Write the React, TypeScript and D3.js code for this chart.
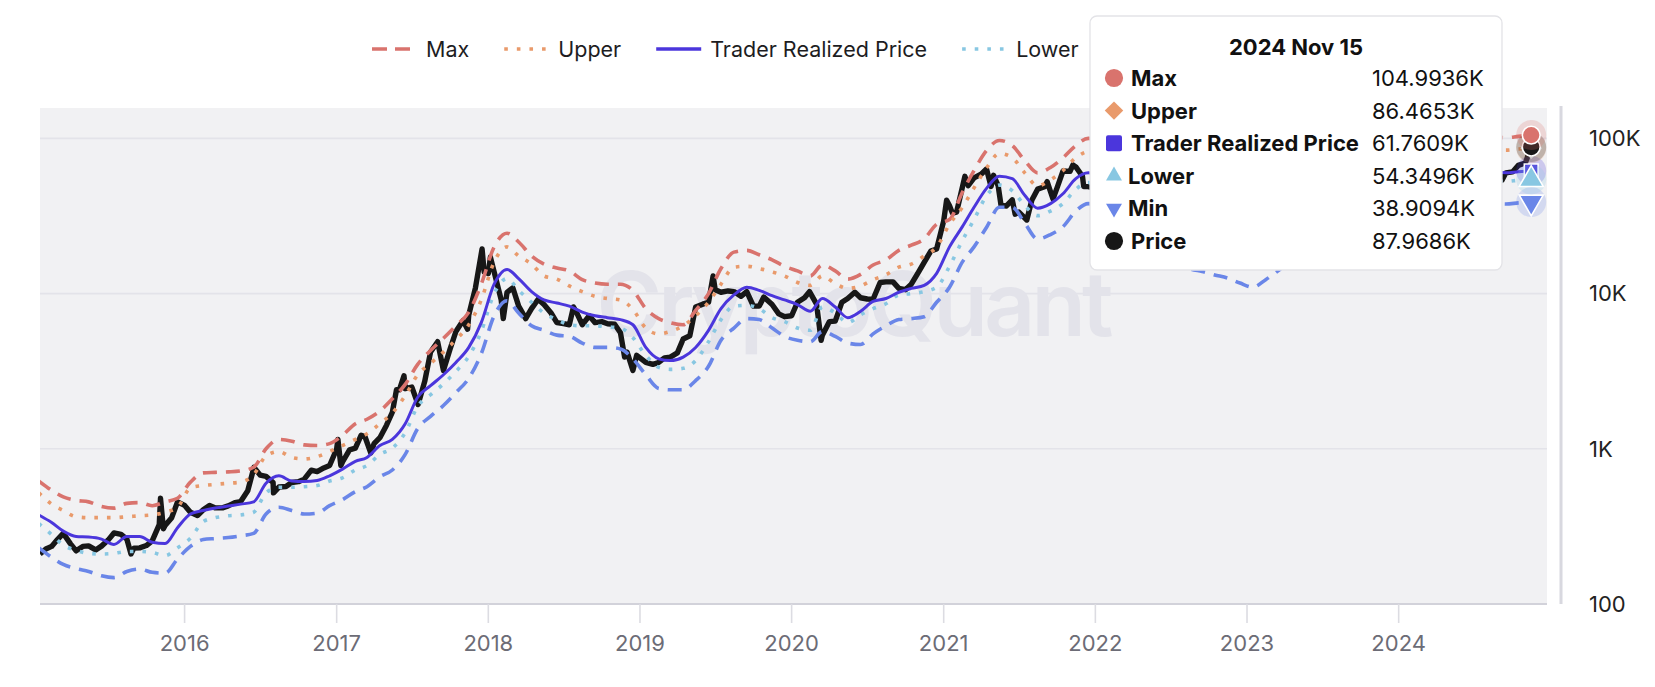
import React, { useEffect, useRef } from "react";
import * as d3 from "d3";

// legend / tooltip text
const seriesNames = ["Max", "Upper", "Trader Realized Price", "Lower", "Min", "Price"];
const seriesColors = ["#d9736d", "#e99a6b", "#4b36dc", "#88c7e2", "#6a86e8", "#171717"];
const tooltipDate = "2024 Nov 15";
const tooltipValues = ["104.9936K", "86.4653K", "61.7609K", "54.3496K", "38.9094K", "87.9686K"];

// axis ticks
const yearTicks = [2016, 2017, 2018, 2019, 2020, 2021, 2022, 2023, 2024];
const yTicks = [100, 1000, 10000, 100000];
const yTickLabels = ["100", "1K", "10K", "100K"];

// band series: one value per month (mid month), Jan 2015 .. Nov 2024
const maxBand = [
  620, 540, 490, 465, 455, 425, 415, 445, 450, 430, 455, 480,
  610, 700, 705, 710, 720, 760, 1000, 1150, 1120, 1060, 1050, 1080,
  1220, 1450, 1550, 1750, 2100, 2600, 3500, 4300, 5150, 6200, 7600, 11500,
  20000, 24500, 21500, 17500, 15500, 14600, 14000, 12300, 11700, 11500, 11500, 10500,
  8000, 6900, 6500, 6300, 7800, 10000, 14500, 18500, 19000, 17800, 16500, 15000,
  14000, 13000, 15300, 14000, 12400, 13300, 15300, 16500, 19000, 20500, 22500, 28000,
  30000, 45000, 62000, 84000, 97000, 90000, 72000, 60000, 65000, 75000, 90000, 100000,
  95000, 82000, 73000, 70000, 66000, 56000, 45000, 39000, 37000, 35500, 34000, 31500,
  30000, 33000, 37000, 43000, 46500, 47500, 50000, 49000, 46500, 47500, 54000, 62000,
  68000, 75000, 93000, 103000, 106000, 108000, 106000, 103000, 101000, 103000, 104994,
];

const upperBand = [
  520, 440, 400, 365, 360, 360, 360, 365, 370, 375, 390, 420,
  560, 580, 590, 600, 610, 680, 900, 960, 880, 860, 890, 960,
  1050, 1150, 1250, 1450, 1700, 2200, 3000, 3550, 4200, 5050, 6300, 9100,
  16000, 20000, 17500, 15500, 13000, 12400, 11200, 10300, 9600, 9300, 9100, 7900,
  6000, 5500, 5700, 6200, 7200, 8800, 11500, 14800, 15000, 14500, 13800, 13000,
  11800, 11300, 13000, 11600, 10800, 11200, 12300, 13200, 14800, 15500, 17500, 20000,
  28000, 36000, 48000, 65000, 80000, 75000, 60000, 49500, 54000, 62000, 75000, 82000,
  78000, 67000, 60000, 58000, 55000, 46000, 37000, 32000, 30500, 29500, 28000, 26000,
  24500, 27000, 30500, 35500, 38500, 39000, 41000, 40500, 38500, 39000, 44500, 51000,
  56000, 61500, 77000, 85000, 88000, 89500, 87500, 85000, 84000, 85500, 86465,
];

const traderRealized = [
  375, 335, 295, 272, 270, 262, 242, 272, 272, 250, 245, 310,
  380, 400, 415, 428, 440, 455, 600, 670, 620, 615, 625, 670,
  740, 830, 880, 1050, 1150, 1450, 2150, 2550, 3000, 3600, 4500, 6500,
  11500, 14300, 12500, 10300, 9100, 8700, 8300, 7600, 7200, 7000, 6800, 6300,
  4500, 3800, 3700, 3900, 4500, 5800, 8000, 9800, 11000, 10500, 9700, 9100,
  8500, 7700, 9300, 8200, 7000, 7700, 8900, 9300, 10200, 10800, 11300, 13500,
  20000, 27000, 36000, 48000, 57000, 55000, 43000, 35500, 38000, 44000, 55000, 60000,
  55000, 47000, 43000, 42000, 40000, 33000, 26000, 23000, 22000, 21000, 20000, 18500,
  17500, 19500, 22000, 25500, 27500, 28000, 29500, 29000, 27500, 28000, 32000, 36500,
  40000, 44000, 55000, 61000, 63000, 64000, 62500, 61000, 60000, 61000, 61761,
];

const lowerBand = [
  330, 280, 240, 222, 212, 210, 212, 218, 218, 215, 205, 230,
  265, 340, 360, 370, 375, 390, 520, 565, 565, 570, 580, 620,
  650, 730, 780, 920, 1010, 1270, 1880, 2230, 2620, 3150, 3950, 5700,
  10000, 12500, 10500, 8800, 7500, 6800, 6300, 6200, 6200, 6100, 6000, 5200,
  4000, 3350, 3250, 3300, 3700, 4900, 6800, 8300, 8400, 8000, 7000, 6600,
  6000, 5800, 8200, 7500, 6500, 7300, 8000, 8600, 9800, 10000, 10300, 11000,
  15000, 22000, 30000, 43000, 50000, 46000, 37000, 31800, 34000, 38000, 47000, 52000,
  48000, 41000, 37500, 36500, 35000, 29000, 22500, 20000, 19200, 18300, 17400, 16100,
  15200, 17000, 19100, 22200, 24000, 24400, 25700, 25200, 24000, 24400, 27800, 31800,
  34800, 38300, 47900, 53500, 55200, 56000, 55000, 53700, 52800, 53700, 54350,
];

const minBand = [
  230, 200, 180, 169, 162, 152, 148, 162, 168, 160, 158, 195,
  235, 260, 264, 268, 275, 285, 380, 420, 400, 380, 385, 430,
  470, 530, 570, 660, 730, 920, 1350, 1620, 1900, 2300, 2850, 4100,
  7200, 9000, 7500, 6200, 5800, 5400, 5300, 4800, 4500, 4500, 4400, 3800,
  3000, 2450, 2400, 2400, 2750, 3400, 5000, 6000, 6900, 6800, 6000, 5300,
  5000, 4900, 5700, 5300, 4800, 4700, 5500, 6200, 6800, 6900, 7100, 8800,
  11000, 16000, 20000, 27000, 36000, 36000, 28500, 22500, 24000, 27000, 34000, 38000,
  35000, 30000, 27000, 26500, 25000, 21000, 16500, 14500, 13900, 13200, 12600, 11700,
  11000, 12300, 13900, 16000, 17300, 17600, 18600, 18300, 17300, 17600, 20200, 23000,
  25200, 27700, 34600, 38400, 39700, 40300, 39400, 38400, 37800, 38400, 38909,
];

// BTC price, read roughly twice a month plus the main highs and lows
const priceSeries: [string, number][] = [
  ["2015-01-18", 210], ["2015-02-01", 226], ["2015-02-15", 235], ["2015-03-01", 260], ["2015-03-15", 285],
  ["2015-04-01", 245], ["2015-04-15", 220], ["2015-05-01", 235], ["2015-05-15", 237], ["2015-06-01", 223],
  ["2015-06-15", 236], ["2015-07-01", 258], ["2015-07-15", 287], ["2015-08-01", 281], ["2015-08-15", 262],
  ["2015-08-25", 210], ["2015-09-01", 229], ["2015-09-15", 230], ["2015-10-01", 238], ["2015-10-15", 255],
  ["2015-11-01", 325], ["2015-11-04", 480], ["2015-11-11", 305], ["2015-11-15", 320], ["2015-12-01", 360],
  ["2015-12-15", 455], ["2016-01-01", 432], ["2016-01-15", 390], ["2016-02-01", 372], ["2016-02-15", 405],
  ["2016-03-01", 432], ["2016-03-15", 416], ["2016-04-01", 416], ["2016-04-15", 429], ["2016-05-01", 450],
  ["2016-05-15", 457], ["2016-06-01", 537], ["2016-06-16", 760], ["2016-07-01", 676], ["2016-07-15", 664],
  ["2016-08-01", 606], ["2016-08-02", 520], ["2016-08-15", 567], ["2016-09-01", 572], ["2016-09-15", 607],
  ["2016-10-01", 614], ["2016-10-15", 638], ["2016-11-01", 729], ["2016-11-15", 714], ["2016-12-01", 753],
  ["2016-12-15", 780], ["2017-01-01", 998], ["2017-01-04", 1150], ["2017-01-11", 780], ["2017-01-15", 822],
  ["2017-02-01", 984], ["2017-02-15", 1010], ["2017-03-01", 1223], ["2017-03-10", 1200], ["2017-03-24", 940],
  ["2017-04-01", 1080], ["2017-04-15", 1180], ["2017-05-01", 1420], ["2017-05-15", 1720], ["2017-05-25", 2400],
  ["2017-06-01", 2400], ["2017-06-12", 2950], ["2017-06-15", 2440], ["2017-07-01", 2500], ["2017-07-16", 1930],
  ["2017-08-01", 2720], ["2017-08-15", 4200], ["2017-09-01", 4900], ["2017-09-15", 3200], ["2017-10-01", 4400],
  ["2017-10-15", 5700], ["2017-11-01", 6700], ["2017-11-12", 5900], ["2017-11-15", 7300], ["2017-12-01", 10900],
  ["2017-12-17", 19400], ["2017-12-22", 13800], ["2018-01-01", 13500], ["2018-01-06", 17200], ["2018-01-15", 13800],
  ["2018-02-01", 9100], ["2018-02-06", 6900], ["2018-02-15", 10200], ["2018-03-01", 10900], ["2018-03-15", 8300],
  ["2018-04-01", 6900], ["2018-04-15", 8000], ["2018-05-01", 9200], ["2018-05-15", 8500], ["2018-06-01", 7500],
  ["2018-06-15", 6500], ["2018-07-01", 6400], ["2018-07-15", 6300], ["2018-07-25", 8200], ["2018-08-01", 7600],
  ["2018-08-15", 6300], ["2018-09-01", 7200], ["2018-09-15", 6500], ["2018-10-01", 6600], ["2018-10-15", 6400],
  ["2018-11-01", 6350], ["2018-11-15", 5600], ["2018-11-25", 3900], ["2018-12-01", 4200], ["2018-12-15", 3200],
  ["2018-12-24", 4000], ["2019-01-01", 3850], ["2019-01-15", 3600], ["2019-02-01", 3500], ["2019-02-15", 3600],
  ["2019-03-01", 3850], ["2019-03-15", 3900], ["2019-04-01", 4150], ["2019-04-15", 5100], ["2019-05-01", 5350],
  ["2019-05-15", 8200], ["2019-06-01", 8550], ["2019-06-15", 8800], ["2019-06-26", 13000], ["2019-07-01", 10600],
  ["2019-07-15", 10200], ["2019-08-01", 10400], ["2019-08-15", 10300], ["2019-09-01", 9600], ["2019-09-15", 10300],
  ["2019-10-01", 8300], ["2019-10-15", 8300], ["2019-10-26", 9500], ["2019-11-01", 9200], ["2019-11-15", 8500],
  ["2019-12-01", 7400], ["2019-12-15", 7100], ["2020-01-01", 7200], ["2020-01-15", 8800], ["2020-02-01", 9400],
  ["2020-02-13", 10300], ["2020-03-01", 8550], ["2020-03-12", 5000], ["2020-03-15", 5400], ["2020-04-01", 6600],
  ["2020-04-15", 6650], ["2020-05-01", 8800], ["2020-05-15", 9300], ["2020-06-01", 10200], ["2020-06-15", 9400],
  ["2020-07-01", 9230], ["2020-07-15", 9200], ["2020-08-01", 11800], ["2020-08-15", 11900], ["2020-09-01", 11900],
  ["2020-09-15", 10800], ["2020-10-01", 10600], ["2020-10-15", 11500], ["2020-11-01", 13700], ["2020-11-15", 15900],
  ["2020-12-01", 18800], ["2020-12-15", 19400], ["2021-01-01", 29400], ["2021-01-08", 40000], ["2021-01-15", 36800],
  ["2021-01-22", 33000], ["2021-02-01", 33500], ["2021-02-15", 48600], ["2021-02-21", 57000], ["2021-03-01", 49600],
  ["2021-03-15", 55600], ["2021-04-01", 58800], ["2021-04-14", 63500], ["2021-04-25", 49000], ["2021-05-01", 57800],
  ["2021-05-12", 49700], ["2021-05-19", 37000], ["2021-06-01", 36700], ["2021-06-15", 40200], ["2021-06-22", 32500],
  ["2021-07-01", 33500], ["2021-07-20", 29800], ["2021-08-01", 39900], ["2021-08-15", 47100], ["2021-09-01", 48800],
  ["2021-09-07", 52700], ["2021-09-21", 40700], ["2021-10-01", 48200], ["2021-10-15", 61600], ["2021-11-01", 61300],
  ["2021-11-08", 67500], ["2021-11-15", 65500], ["2021-12-01", 57000], ["2021-12-04", 49000], ["2021-12-15", 48900],
  ["2022-01-01", 47700], ["2022-01-15", 43100], ["2022-01-22", 35000], ["2022-02-01", 38700], ["2022-02-15", 44600],
  ["2022-03-01", 44400], ["2022-03-15", 39300], ["2022-03-29", 47400], ["2022-04-15", 40400], ["2022-05-01", 38500],
  ["2022-05-15", 31300], ["2022-06-01", 29800], ["2022-06-18", 19000], ["2022-07-01", 19300], ["2022-07-15", 20800],
  ["2022-08-01", 23300], ["2022-08-15", 24300], ["2022-09-01", 20100], ["2022-09-15", 19700], ["2022-10-01", 19300],
  ["2022-10-15", 19100], ["2022-11-01", 20500], ["2022-11-09", 15900], ["2022-11-15", 16900], ["2022-12-01", 17100],
  ["2022-12-15", 17400], ["2023-01-01", 16600], ["2023-01-15", 20900], ["2023-02-01", 23700], ["2023-02-15", 24300],
  ["2023-03-01", 23600], ["2023-03-10", 20200], ["2023-03-15", 24400], ["2023-04-01", 28400], ["2023-04-15", 30400],
  ["2023-05-01", 28100], ["2023-05-15", 27200], ["2023-06-01", 26800], ["2023-06-15", 25100], ["2023-07-01", 30600],
  ["2023-07-15", 30300], ["2023-08-01", 29700], ["2023-08-17", 26600], ["2023-09-01", 25900], ["2023-09-15", 26600],
  ["2023-10-01", 28000], ["2023-10-15", 27200], ["2023-10-24", 34500], ["2023-11-01", 35400], ["2023-11-15", 35500],
  ["2023-12-01", 38700], ["2023-12-15", 41900], ["2024-01-01", 44200], ["2024-01-11", 46600], ["2024-01-23", 39500],
  ["2024-02-01", 43100], ["2024-02-15", 51900], ["2024-03-01", 62400], ["2024-03-14", 73100], ["2024-03-20", 62000],
  ["2024-04-01", 69600], ["2024-04-15", 63400], ["2024-05-01", 58200], ["2024-05-15", 66200], ["2024-06-01", 67800],
  ["2024-06-15", 66000], ["2024-07-01", 62900], ["2024-07-05", 56700], ["2024-07-15", 64800], ["2024-08-01", 64600],
  ["2024-08-05", 54000], ["2024-08-15", 57500], ["2024-09-01", 57300], ["2024-09-06", 53900], ["2024-09-15", 60000],
  ["2024-10-01", 60800], ["2024-10-15", 67000], ["2024-11-01", 69500], ["2024-11-06", 75800], ["2024-11-13", 90000],
  ["2024-11-15", 87969],
];

export default function App() {
  const svgRef = useRef<SVGSVGElement | null>(null);

  useEffect(() => {
    if (!svgRef.current) return;
    const svg = d3.select(svgRef.current);
    svg.selectAll("*").remove();

    const plot = { left: 40, right: 1547, top: 108, bottom: 604 };
    const parse = d3.timeParse("%Y-%m-%d");
    const font = "Inter, 'Open Sans', sans-serif";

    const x = d3
      .scaleTime()
      .domain([parse("2015-01-18") as Date, parse("2024-12-23") as Date])
      .range([plot.left, plot.right]);
    const y = d3.scaleLog().domain([100, 157000]).range([plot.bottom, plot.top]);

    // mid-month dates for the band series
    const months = d3
      .timeMonth.range(new Date(2015, 0, 1), new Date(2024, 11, 1))
      .map((d) => d3.timeDay.offset(d, 14));

    const bands = [
      { vals: maxBand, color: seriesColors[0], dash: "14,9", width: 3.6 },
      { vals: upperBand, color: seriesColors[1], dash: "3.6,9", width: 3.6 },
      { vals: lowerBand, color: seriesColors[3], dash: "3.6,9", width: 3.6 },
      { vals: minBand, color: seriesColors[4], dash: "14,9", width: 3.6 },
      { vals: traderRealized, color: seriesColors[2], dash: null, width: 3 },
    ];

    // plot background
    svg
      .append("rect")
      .attr("x", plot.left)
      .attr("y", plot.top)
      .attr("width", plot.right - plot.left)
      .attr("height", plot.bottom - plot.top)
      .attr("fill", "#f1f1f3");

    svg
      .append("defs")
      .append("clipPath")
      .attr("id", "plot-clip")
      .append("rect")
      .attr("x", plot.left)
      .attr("y", plot.top - 2)
      .attr("width", plot.right - plot.left)
      .attr("height", plot.bottom - plot.top + 2);

    // gridlines
    svg
      .append("g")
      .selectAll("line")
      .data(yTicks.slice(1))
      .join("line")
      .attr("x1", plot.left)
      .attr("x2", plot.right)
      .attr("y1", (d) => y(d))
      .attr("y2", (d) => y(d))
      .attr("stroke", "#e3e3e9")
      .attr("stroke-width", 1.6);

    // watermark
    svg
      .append("text")
      .attr("x", 855)
      .attr("y", 336)
      .attr("text-anchor", "middle")
      .attr("font-family", font)
      .attr("font-weight", 600)
      .attr("font-size", 89)
      .attr("textLength", 517)
      .attr("fill", "#e3e3ea")
      .text("CryptoQuant");

    const lines = svg.append("g").attr("clip-path", "url(#plot-clip)");

    // price
    const priceLine = d3
      .line<[string, number]>()
      .x((d) => x(parse(d[0]) as Date))
      .y((d) => y(d[1]));
    lines
      .append("path")
      .datum(priceSeries)
      .attr("fill", "none")
      .attr("stroke", seriesColors[5])
      .attr("stroke-width", 5.4)
      .attr("stroke-linejoin", "round")
      .attr("d", priceLine);

    // bands and trader realized price
    const bandLine = d3
      .line<number>()
      .x((_, i) => x(months[i]))
      .y((d) => y(d))
      .curve(d3.curveMonotoneX);
    bands.forEach((b) => {
      lines
        .append("path")
        .datum(b.vals)
        .attr("fill", "none")
        .attr("stroke", b.color)
        .attr("stroke-width", b.width)
        .attr("stroke-dasharray", b.dash)
        .attr("d", bandLine);
    });

    // bottom axis
    svg
      .append("line")
      .attr("x1", plot.left)
      .attr("x2", plot.right)
      .attr("y1", plot.bottom)
      .attr("y2", plot.bottom)
      .attr("stroke", "#d2d2da")
      .attr("stroke-width", 2);
    const xt = svg.append("g");
    yearTicks.forEach((yr) => {
      const px = x(new Date(yr, 0, 1));
      xt.append("line")
        .attr("x1", px)
        .attr("x2", px)
        .attr("y1", plot.bottom)
        .attr("y2", plot.bottom + 19)
        .attr("stroke", "#dcdce2")
        .attr("stroke-width", 1.6);
      xt.append("text")
        .attr("x", px)
        .attr("y", 651)
        .attr("text-anchor", "middle")
        .attr("font-family", font)
        .attr("font-size", 22)
        .attr("fill", "#6c6c76")
        .text(String(yr));
    });

    // right axis
    svg
      .append("line")
      .attr("x1", 1561)
      .attr("x2", 1561)
      .attr("y1", 106)
      .attr("y2", plot.bottom)
      .attr("stroke", "#d8d8df")
      .attr("stroke-width", 3);
    svg
      .append("g")
      .selectAll("text")
      .data(yTicks)
      .join("text")
      .attr("x", 1589)
      .attr("y", (d) => y(d))
      .attr("dy", "0.35em")
      .attr("font-family", font)
      .attr("font-size", 22)
      .attr("fill", "#222")
      .text((_, i) => yTickLabels[i]);

    // legend: the last two items sit under the tooltip, so only the
    // visible ones are drawn
    const legend = svg.append("g").attr("transform", "translate(372,49)");
    let lx = 0;
    seriesNames.slice(0, 4).forEach((name, i) => {
      const item = legend.append("g").attr("transform", `translate(${lx},0)`);
      const ln = item
        .append("line")
        .attr("x1", 0)
        .attr("x2", 45)
        .attr("y1", 0)
        .attr("y2", 0)
        .attr("stroke", seriesColors[i])
        .attr("stroke-width", 3.4);
      if (i === 0) ln.attr("stroke-dasharray", "15,8");
      if (i === 1 || i === 3) ln.attr("stroke-dasharray", "3.6,9");
      const t = item
        .append("text")
        .attr("x", 54)
        .attr("y", 0)
        .attr("dy", "0.35em")
        .attr("font-family", font)
        .attr("font-size", 21.5)
        .attr("fill", "#1d1d1f")
        .text(name);
      const tw = (t.node() as SVGTextElement).getComputedTextLength();
      lx += 54 + tw + 35;
    });

    // symbols (diamond is a square turned 45 degrees)
    const symbolPath = (i: number, size: number) => {
      const types = [
        d3.symbolCircle,
        d3.symbolSquare,
        d3.symbolSquare,
        d3.symbolTriangle,
        d3.symbolTriangle,
        d3.symbolCircle,
      ];
      return d3.symbol().type(types[i]).size(size)() as string;
    };
    const symbolTurn = (i: number) => (i === 1 ? 45 : i === 4 ? 180 : 0);

    // hover markers at the last point
    const lastDate = parse("2024-11-15") as Date;
    const lastVals = [
      maxBand[maxBand.length - 1],
      upperBand[upperBand.length - 1],
      traderRealized[traderRealized.length - 1],
      lowerBand[lowerBand.length - 1],
      minBand[minBand.length - 1],
      priceSeries[priceSeries.length - 1][1],
    ];
    const mx = x(lastDate);
    [4, 2, 3, 1, 5, 0].forEach((i) => {
      const my = y(lastVals[i]);
      svg
        .append("circle")
        .attr("cx", mx)
        .attr("cy", my)
        .attr("r", 15)
        .attr("fill", seriesColors[i])
        .attr("opacity", 0.22);
      svg
        .append("path")
        .attr("d", symbolPath(i, i === 1 || i === 2 ? 190 : 250))
        .attr("transform", `translate(${mx},${my}) rotate(${symbolTurn(i)})`)
        .attr("fill", seriesColors[i])
        .attr("stroke", "#fff")
        .attr("stroke-width", 1.6);
    });

    // tooltip
    const tip = svg.append("g").attr("transform", "translate(1090,16)");
    tip
      .append("rect")
      .attr("width", 412)
      .attr("height", 254)
      .attr("rx", 7)
      .attr("fill", "#fff")
      .attr("stroke", "#e3e3e7")
      .attr("stroke-width", 1.3);
    tip
      .append("text")
      .attr("x", 206)
      .attr("y", 31)
      .attr("dy", "0.36em")
      .attr("text-anchor", "middle")
      .attr("font-family", font)
      .attr("font-weight", 700)
      .attr("font-size", 22)
      .attr("fill", "#111")
      .text(tooltipDate);
    seriesNames.forEach((name, i) => {
      const ry = 62 + i * 32.6;
      const icon = tip.append("g").attr("transform", `translate(24,${ry})`);
      if (i === 2) {
        icon
          .append("rect")
          .attr("x", -8)
          .attr("y", -8)
          .attr("width", 16)
          .attr("height", 16)
          .attr("rx", 2)
          .attr("fill", seriesColors[i]);
      } else {
        const size = i === 3 || i === 4 ? 110 : i === 1 ? 170 : 260;
        icon
          .append("path")
          .attr("d", symbolPath(i, size))
          .attr("transform", `rotate(${symbolTurn(i)})`)
          .attr("fill", seriesColors[i]);
      }
      tip
        .append("text")
        .attr("x", i === 3 || i === 4 ? 38 : 41)
        .attr("y", ry)
        .attr("dy", "0.36em")
        .attr("font-family", font)
        .attr("font-weight", 700)
        .attr("font-size", 22)
        .attr("fill", "#111")
        .text(name);
      tip
        .append("text")
        .attr("x", 282)
        .attr("y", ry)
        .attr("dy", "0.36em")
        .attr("font-family", font)
        .attr("font-size", 22)
        .attr("fill", "#111")
        .text(tooltipValues[i]);
    });
  }, []);

  return (
    <svg
      ref={svgRef}
      width={1655}
      height={687}
      style={{ position: "absolute", left: 0, top: 0, background: "#fff" }}
    ></svg>
  );
}
